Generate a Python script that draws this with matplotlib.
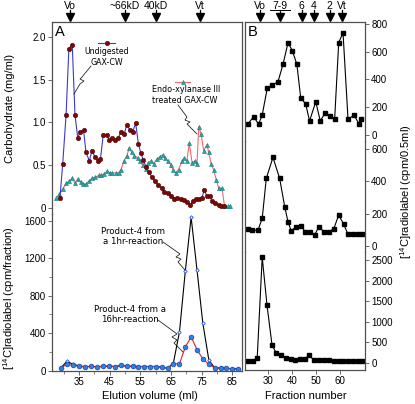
import matplotlib
matplotlib.use("Agg")
import matplotlib.pyplot as plt
from matplotlib.lines import Line2D
from matplotlib.ticker import MultipleLocator
from matplotlib import transforms

plt.rcParams["font.family"] = ["Liberation Sans", "DejaVu Sans"]
plt.rcParams["mathtext.fontset"] = "custom"
plt.rcParams["mathtext.rm"] = "Liberation Sans"

# ---- Panel A, carbohydrate (mg/ml) vs elution volume (ml) ----
und_x = [28.8, 29.7, 30.8, 31.7, 32.8, 33.7, 34.6, 35.4, 36.5, 37.3,
         38.4, 39.2, 40.2, 41.2, 42.0, 42.9, 44.0, 44.9, 45.9, 46.8,
         47.8, 48.7, 49.7, 50.6, 51.7, 52.5, 53.5, 54.4, 55.2, 56.0,
         56.9, 57.8, 58.8, 59.8, 60.9, 62.0, 62.9, 64.0, 65.1, 66.1,
         67.1, 68.2, 69.3, 70.4, 71.3, 72.2, 73.1, 74.2, 75.1, 75.9,
         76.7, 77.6, 78.4, 79.5, 80.6, 81.4, 82.2]
und_y = [0.12, 0.52, 1.09, 1.86, 1.91, 1.09, 0.82, 0.89, 0.91, 0.65,
         0.55, 0.67, 0.60, 0.55, 0.57, 0.85, 0.85, 0.80, 0.82, 0.80,
         0.82, 0.89, 0.86, 0.97, 0.91, 0.89, 0.99, 0.75, 0.64, 0.56,
         0.48, 0.42, 0.36, 0.31, 0.27, 0.23, 0.19, 0.17, 0.14, 0.11,
         0.12, 0.10, 0.09, 0.07, 0.03, 0.085, 0.10, 0.11, 0.12, 0.21,
         0.14, 0.14, 0.085, 0.06, 0.035, 0.02, 0.02]

endo_x = [27.6, 28.6, 29.7, 30.8, 31.7, 32.8, 33.7, 34.6, 35.6, 36.4,
          37.3, 38.4, 39.4, 40.3, 41.4, 42.2, 43.2, 44.1, 45.0, 45.9,
          47.0, 47.9, 48.7, 49.7, 50.6, 51.4, 52.2, 53.1, 54.1, 54.9,
          55.8, 56.8, 57.6, 58.5, 59.4, 60.4, 61.3, 62.3, 63.2, 64.1,
          65.0, 65.8, 66.6, 67.5, 68.6, 69.4, 70.2, 71.0, 71.9, 72.8,
          73.5, 74.1, 74.9, 75.7, 76.8, 77.3, 78.2, 79.0, 79.8, 80.6,
          81.7, 82.5, 83.5, 84.4]
endo_y = [0.12, 0.16, 0.22, 0.29, 0.31, 0.35, 0.29, 0.34, 0.30, 0.28,
          0.28, 0.32, 0.35, 0.36, 0.38, 0.38, 0.40, 0.43, 0.41, 0.41,
          0.41, 0.41, 0.45, 0.55, 0.61, 0.70, 0.65, 0.61, 0.59, 0.55,
          0.50, 0.46, 0.53, 0.55, 0.52, 0.57, 0.60, 0.62, 0.58, 0.55,
          0.50, 0.44, 0.41, 0.45, 0.55, 0.58, 0.55, 0.76, 0.53, 0.55,
          0.51, 0.95, 0.86, 0.67, 0.74, 0.65, 0.51, 0.44, 0.33, 0.23,
          0.23, 0.02, 0.02, 0.02]

# ---- Panel A, radiolabel (cpm/fraction) ----
rad_x = [29.1, 31.1, 33.1, 35.1, 37.1, 39.0, 41.0, 42.9, 44.8, 46.8,
         48.7, 50.6, 52.5, 54.4, 56.3, 58.2, 60.1, 62.0, 63.9, 65.8,
         67.8, 69.7, 71.6, 73.5, 75.4, 77.4, 79.3, 81.2, 83.1, 85.0, 86.9]
hr1 = [29, 100, 65, 50, 40, 46, 40, 46, 46, 43,
       54, 46, 46, 43, 43, 43, 43, 36, 25, 79,
       415, 1063, 1640, 1081, 511, 108, 30, 25, 25, 18, 18]
hr16 = [29, 65, 54, 46, 36, 46, 36, 46, 46, 43,
        54, 46, 46, 43, 43, 43, 43, 36, 25, 72,
        72, 252, 360, 224, 126, 65, 29, 25, 25, 18, 18]

# ---- Panel B, radiolabel (cpm/0.5ml) vs fraction number ----
b1_x = [21.6, 24.0, 26.1, 27.6, 29.7, 31.8, 34.2, 36.3, 38.4, 40.2,
        42.1, 43.7, 45.8, 47.4, 50.0, 51.9, 54.0, 55.8, 57.9, 59.6,
        61.4, 63.5, 66.0, 68.1, 69.0]
b1_y = [79, 132, 79, 144, 336, 360, 384, 509, 665, 608,
        509, 269, 223, 101, 240, 101, 161, 137, 113, 665,
        737, 113, 144, 79, 113]
b2_x = [21.6, 23.4, 25.8, 27.6, 29.3, 32.1, 34.9, 37.0, 38.4, 39.7,
        41.8, 43.9, 45.6, 47.4, 49.5, 51.3, 53.4, 55.4, 57.5, 59.6,
        61.7, 63.5, 65.6, 67.7, 69.5]
b2_y = [102, 96, 96, 170, 419, 550, 419, 243, 149, 93,
        118, 124, 87, 87, 67, 118, 87, 87, 104, 191,
        133, 71, 71, 71, 71]
b3_x = [21.6, 23.7, 25.5, 27.6, 29.6, 31.7, 33.5, 35.3, 37.4, 39.5,
        41.4, 43.3, 45.4, 47.2, 49.1, 51.3, 53.3, 55.4, 57.5, 59.6,
        61.4, 63.5, 65.6, 67.7, 69.3]
b3_y = [41, 41, 107, 2566, 1405, 431, 229, 187, 107, 90,
        66, 90, 82, 187, 66, 58, 66, 58, 50, 50,
        50, 41, 50, 50, 50]

# column markers
a_marks = ["Vo", "~66kD", "40kD", "Vt"]
a_marks_ml = [32.1, 50.0, 60.1, 74.5]
b_marks = ["Vo", "7-9", "6", "4", "2", "Vt"]
b_marks_fr = [26.7, 35.0, 44.1, 49.3, 55.9, 61.1]

W, H = 415, 404


def px(x, y):
    return x / W, 1 - y / H


def rect(x0, y0, x1, y1):
    return [x0 / W, 1 - y1 / H, (x1 - x0) / W, (y1 - y0) / H]


fig = plt.figure(figsize=(W / 100, H / 100), dpi=100)
axA1 = fig.add_axes(rect(52, 22, 242, 214))
axA2 = fig.add_axes(rect(52, 214, 242, 371))
axB1 = fig.add_axes(rect(245, 22, 365, 141))
axB2 = fig.add_axes(rect(245, 141, 365, 252))
axB3 = fig.add_axes(rect(245, 252, 365, 370))

frame = "#505050"
for ax in (axA1, axA2, axB1, axB2, axB3):
    for s in ax.spines.values():
        s.set_color(frame)
        s.set_linewidth(0.9)
    ax.patch.set_alpha(0)
    ax.tick_params(direction="out", length=3, width=0.6, labelsize=7,
                   pad=1.5, color=frame)
axA1.spines["bottom"].set_visible(False)
axA2.spines["top"].set_visible(False)
axB1.spines["bottom"].set_visible(False)
axB2.spines["top"].set_visible(False)
axB2.spines["bottom"].set_visible(False)
axB3.spines["top"].set_visible(False)

# Panel A top
axA1.plot(endo_x, endo_y, color="#F06A6A", lw=0.8, marker="^", ms=2.9,
          mfc="#22AAAA", mec="#137878", mew=0.4)
axA1.plot(und_x, und_y, color="#3A3ACC", lw=0.8, marker="o", ms=3.2,
          mfc="#7A0A0A", mec="#5A0000", mew=0.4)
axA1.set_xlim(26.2, 88.2)
axA1.set_ylim(-0.07, 2.174)
axA1.set_yticks([0, 0.5, 1.0, 1.5, 2.0])
axA1.set_yticklabels(["0", "0.5", "1.0", "1.5", "2.0"])
axA1.tick_params(bottom=False, labelbottom=False)

# Panel A bottom
axA2.plot(rad_x, hr1, color="black", lw=0.8, marker="D", ms=1.8,
          mfc="white", mec="#2255DD", mew=0.6)
axA2.plot(rad_x, hr16, color="#E02020", lw=0.8, marker="o", ms=3.4,
          mfc="#2E80E6", mec="#1848A8", mew=0.5)
axA2.set_xlim(26.2, 88.2)
axA2.set_ylim(-5, 1675)
axA2.set_yticks([0, 400, 800, 1200, 1600])
axA2.yaxis.set_minor_locator(MultipleLocator(200))
axA2.set_xticks([35, 45, 55, 65, 75, 85])
axA2.xaxis.set_minor_locator(MultipleLocator(5))
axA2.tick_params(which="minor", direction="out", length=2, width=0.5, color=frame)

# Panel B
for ax, xs, ys, lim, ticks in (
        (axB1, b1_x, b1_y, (-43, 814), [0, 200, 400, 600, 800]),
        (axB2, b2_x, b2_y, (-39, 652), [0, 200, 400, 600]),
        (axB3, b3_x, b3_y, (-178, 2695), [0, 500, 1000, 1500, 2000, 2500])):
    ax.plot(xs, ys, color="black", lw=0.8, marker="s", ms=3.1,
            mfc="black", mec="black")
    ax.set_xlim(20.4, 70.6)
    ax.set_ylim(*lim)
    ax.set_yticks(ticks)
    ax.yaxis.tick_right()
    ax.tick_params(left=False, labelleft=False, right=True, labelright=True)
    if ax is not axB3:
        ax.tick_params(bottom=False, labelbottom=False)
axB3.set_xticks([30, 40, 50, 60])

# column markers above the panels
for ax, names, pos in ((axA1, a_marks, a_marks_ml), (axB1, b_marks, b_marks_fr)):
    tr = transforms.blended_transform_factory(ax.transData, fig.transFigure)
    for name, xv in zip(names, pos):
        ax.text(xv, 1 - 6 / H, name, transform=tr, ha="center", va="center",
                fontsize=7.5)
        ax.add_line(Line2D([xv, xv], [1 - 10 / H, 1 - 15 / H], transform=tr,
                           color="black", lw=0.9, clip_on=False))
        ax.add_line(Line2D([xv], [1 - 17.3 / H], transform=tr, marker="v",
                           ms=5.5, color="black", clip_on=False))
        if name == "7-9":
            ax.add_line(Line2D([xv - 4.2, xv + 4.2], [1 - 10 / H] * 2,
                               transform=tr, color="black", lw=0.7,
                               clip_on=False))

# panel letters
fig.text(*px(60, 32), "A", fontsize=10.5, ha="center", va="center")
fig.text(*px(253, 32), "B", fontsize=10.5, ha="center", va="center")

# axis labels
fig.text(*px(10, 108), "Carbohydrate (mg/ml)", rotation=90, fontsize=8,
         ha="center", va="center")
fig.text(*px(9, 298), "[$^{14}$C]radiolabel (cpm/fraction)", rotation=90,
         fontsize=8, ha="center", va="center")
fig.text(*px(406, 192), "[$^{14}$C]radiolabel (cpm/0.5ml)", rotation=90,
         fontsize=8, ha="center", va="center")
fig.text(*px(150, 396), "Elution volume (ml)", fontsize=8, ha="center",
         va="center")
fig.text(*px(306, 396), "Fraction number", fontsize=8, ha="center",
         va="center")

# callouts
ann = dict(family="DejaVu Sans", linespacing=1.15)
fig.text(*px(107, 57), "Undigested\nGAX-CW", fontsize=5.7, ha="center",
         va="center", **ann)
fig.text(*px(152, 95), "Endo-xylanase III\ntreated GAX-CW", fontsize=5.8,
         ha="left", va="center", **ann)
fig.text(*px(133, 236.5), "Product-4 from\na 1hr-reaction", fontsize=6.2,
         ha="center", va="center", **ann)
fig.text(*px(130, 314.5), "Product-4 from a\n16hr-reaction", fontsize=6.2,
         ha="center", va="center", **ann)

callouts = [
    [(91, 66), (82, 77), (80, 79), (84, 81), (80, 84), (74, 94)],
    [(178, 105), (187, 117), (185, 120), (190, 122), (187, 124), (197, 134)],
    [(163, 242), (180, 254), (176, 257), (181, 259), (178, 262), (185, 270)],
    [(158, 320), (177, 334), (172, 337), (177, 340), (174, 343), (183, 352)],
]
for pts in callouts:
    fx = [px(x, y)[0] for x, y in pts]
    fy = [px(x, y)[1] for x, y in pts]
    fig.add_artist(Line2D(fx, fy, color="black", lw=0.5))

# legend samples
fig.add_artist(Line2D([98 / W, 115 / W], [1 - 43 / H] * 2, color="#3A3ACC",
                      lw=0.8))
fig.add_artist(Line2D([106.5 / W], [1 - 43 / H], marker="o", ms=3.2,
                      mfc="#7A0A0A", mec="#5A0000", mew=0.4))
fig.add_artist(Line2D([175 / W, 190 / W], [1 - 82 / H] * 2, color="#F06A6A",
                      lw=0.8))
fig.add_artist(Line2D([182.5 / W], [1 - 82 / H], marker="^", ms=2.9,
                      mfc="#22AAAA", mec="#137878", mew=0.4))

fig.savefig("out.png", dpi=100)
plt.close(fig)
